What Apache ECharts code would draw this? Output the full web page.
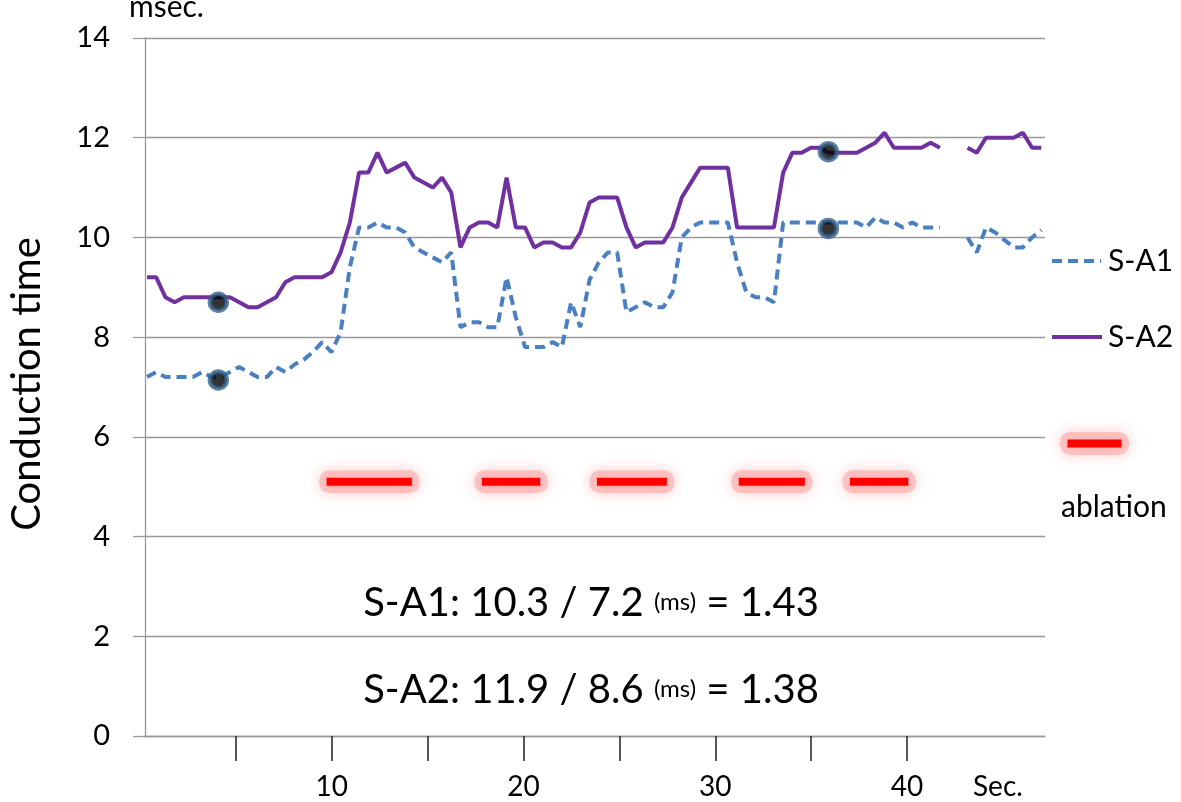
<!DOCTYPE html>
<html><head><meta charset="utf-8">
<script src="https://cdn.jsdelivr.net/npm/echarts@6/dist/echarts.min.js"></script>
<style>html,body{margin:0;padding:0;background:#fff}#c{width:1181px;height:802px}</style>
</head><body><div id="c"></div>
<script>
// Conduction time (msec.) per beat sample (null = no data)
const sa1 = [7.2,7.3,7.2,7.2,7.2,7.2,7.3,7.2,7.2,7.3,
  7.4,7.3,7.2,7.2,7.4,7.3,7.45,7.55,7.7,7.9,
  7.7,8.1,9.4,10.2,10.2,10.3,10.2,10.2,10.1,9.8,
  9.7,9.6,9.5,9.7,8.2,8.3,8.3,8.2,8.2,9.2,
  8.4,7.8,7.8,7.8,7.9,7.8,8.7,8.2,9.15,9.5,
  9.7,9.7,8.5,8.6,8.7,8.6,8.6,8.9,10.0,10.2,
  10.3,10.3,10.3,10.3,9.5,8.9,8.8,8.8,8.7,10.3,
  10.3,10.3,10.3,10.3,10.3,10.3,10.3,10.3,10.2,10.4,
  10.3,10.3,10.2,10.3,10.2,10.2,10.2,null,null,10.0,
  9.7,10.2,10.1,9.95,9.8,9.8,10.0,10.15];
const sa2 = [9.2,9.2,8.8,8.7,8.8,8.8,8.8,8.8,8.8,8.8,
  8.7,8.6,8.6,8.7,8.8,9.1,9.2,9.2,9.2,9.2,
  9.3,9.7,10.3,11.3,11.3,11.7,11.3,11.4,11.5,11.2,
  11.1,11.0,11.2,10.9,9.8,10.2,10.3,10.3,10.2,11.2,
  10.2,10.2,9.8,9.9,9.9,9.8,9.8,10.1,10.7,10.8,
  10.8,10.8,10.2,9.8,9.9,9.9,9.9,10.2,10.8,11.1,
  11.4,11.4,11.4,11.4,10.2,10.2,10.2,10.2,10.2,11.3,
  11.7,11.7,11.8,11.8,11.7,11.7,11.7,11.7,11.8,11.9,
  12.1,11.8,11.8,11.8,11.8,11.9,11.8,null,null,11.8,
  11.7,12.0,12.0,12.0,12.0,12.1,11.8,11.8];
// highlighted measurement points [sec, msec]
const markA1 = [[4.08,7.14],[35.9,10.18]];
const markA2 = [[4.08,8.7],[35.9,11.72]];
// ablation periods [start sec, end sec] and the level they are drawn at
const ablation = [[9.7,14.2],[17.8,20.9],[23.8,27.5],[31.2,34.7],[37.0,40.1]];
const ablationLevel = 5.1;
// axis ticks
const secTicks = [5,10,15,20,25,30,35,40];
const secLabels = [10,20,30,40];
const seriesNames = ['S-A1', 'S-A2'];
const notes = [
  ['S-A1: 10.3 / 7.2 ', '(ms)', ' = 1.43'],
  ['S-A2: 11.9 / 8.6 ', '(ms)', ' = 1.38']
];

const FONT = 'Lato';
const BLUE = '#4a7fc1', PURPLE = '#7030a0';
const DASH = [10, 6];
const toPairs = arr => arr.map((v, i) => [i + 1, v == null ? '-' : v]);

const chart = echarts.init(document.getElementById('c'), null, {renderer: 'canvas'});
const noteText = n => '{a|' + n[0] + '}{b|' + n[1] + '}{a|' + n[2] + '}';
const noteRich = {
  a: {fontSize: 40, fontFamily: FONT, fill: '#000', color: '#000'},
  b: {fontSize: 24, fontFamily: FONT, fill: '#000', color: '#000', padding: [0, 0, 2, 0]}
};
const glowBar = (x, y, w, h) => ({
  type: 'group',
  children: [
    {type: 'rect', shape: {x: x - 7, y: y - 7, width: w + 14, height: h + 14, r: 10},
     style: {fill: 'rgba(248,150,150,0.45)', shadowBlur: 14, shadowColor: 'rgba(248,130,130,0.9)'}},
    {type: 'rect', shape: {x: x, y: y, width: w, height: h},
     style: {fill: '#ff0000', stroke: 'rgba(255,190,190,0.9)', lineWidth: 1}}
  ]
});

chart.setOption({
  animation: false,
  backgroundColor: '#fff',
  grid: {left: 145, right: 136, top: 38, bottom: 66},
  xAxis: [
    {type: 'value', min: 0.783, max: 98.4, show: false},
    {type: 'value', min: 0.253, max: 47.2, position: 'bottom',
     axisLine: {show: true, lineStyle: {color: '#999', width: 1.3}},
     axisTick: {show: true, customValues: secTicks, length: 25, lineStyle: {color: '#222', width: 1.5}},
     axisLabel: {customValues: secLabels, margin: 37, fontSize: 28, fontFamily: FONT, color: '#000'},
     splitLine: {show: false}}
  ],
  yAxis: {
    type: 'value', min: 0, max: 14, interval: 2,
    axisLine: {show: true, lineStyle: {color: '#999', width: 1.3}},
    axisTick: {show: true, length: 12, lineStyle: {color: '#999', width: 1.3}},
    axisLabel: {margin: 35, fontSize: 29, fontFamily: FONT, color: '#000'},
    splitLine: {show: true, lineStyle: {color: '#999', width: 1.3}}
  },
  series: [
    {name: seriesNames[0], type: 'line', xAxisIndex: 0, data: toPairs(sa1), symbol: 'none',
     connectNulls: false, lineStyle: {color: BLUE, width: 4, type: DASH},
     itemStyle: {color: BLUE}, z: 3},
    {name: seriesNames[1], type: 'line', xAxisIndex: 0, data: toPairs(sa2), symbol: 'none',
     connectNulls: false, lineStyle: {color: PURPLE, width: 4},
     itemStyle: {color: PURPLE}, z: 3},
    {name: 'mA1', type: 'scatter', xAxisIndex: 1, data: markA1, symbol: 'circle', symbolSize: 17,
     itemStyle: {color: '#000', borderColor: '#34638f', borderWidth: 4.5}, z: 5},
    {name: 'mA2', type: 'scatter', xAxisIndex: 1, data: markA2, symbol: 'circle', symbolSize: 17,
     itemStyle: {color: '#000', borderColor: '#34638f', borderWidth: 4.5}, z: 5},
    {name: 'ablation', type: 'custom', xAxisIndex: 1,
     data: ablation.map(p => [p[0], p[1], ablationLevel]),
     encode: {x: [0, 1], y: 2},
     renderItem: function (params, api) {
       const s = api.coord([api.value(0), api.value(2)]);
       const e = api.coord([api.value(1), api.value(2)]);
       return glowBar(s[0], s[1] - 4.5, e[0] - s[0], 9);
     }, z: 4}
  ],
  graphic: [
    {type: 'text', x: 129, y: 7, style: {text: 'msec.', fontSize: 30, fontFamily: FONT, fill: '#000', align: 'left', verticalAlign: 'middle'}},
    {type: 'text', x: 27, y: 384, rotation: Math.PI / 2, style: {text: 'Conduction time', fontSize: 40, fontFamily: FONT, fill: '#000', align: 'center', verticalAlign: 'middle'}},
    {type: 'text', x: 973, y: 787, style: {text: 'Sec.', fontSize: 28, fontFamily: FONT, fill: '#000', align: 'left', verticalAlign: 'middle'}},
    // legend
    {type: 'line', shape: {x1: 1052, y1: 261, x2: 1101, y2: 261}, style: {stroke: BLUE, lineWidth: 4, lineDash: DASH}},
    {type: 'text', x: 1108, y: 261, style: {text: seriesNames[0], fontSize: 30, fontFamily: FONT, fill: '#000', align: 'left', verticalAlign: 'middle'}},
    {type: 'line', shape: {x1: 1052, y1: 337, x2: 1102, y2: 337}, style: {stroke: PURPLE, lineWidth: 4}},
    {type: 'text', x: 1108, y: 337, style: {text: seriesNames[1], fontSize: 30, fontFamily: FONT, fill: '#000', align: 'left', verticalAlign: 'middle'}},
    glowBar(1067, 439, 55, 9),
    {type: 'text', x: 1061, y: 507, style: {text: 'ablation', fontSize: 30, fontFamily: FONT, fill: '#000', align: 'left', verticalAlign: 'middle'}},
    {type: 'text', x: 591, y: 603, style: {text: noteText(notes[0]), rich: noteRich, align: 'center', verticalAlign: 'middle'}},
    {type: 'text', x: 591, y: 690, style: {text: noteText(notes[1]), rich: noteRich, align: 'center', verticalAlign: 'middle'}}
  ]
});
</script>
</body></html>
